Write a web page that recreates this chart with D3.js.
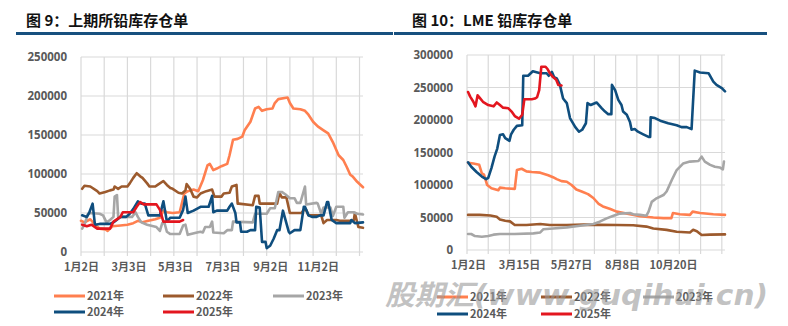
<!DOCTYPE html>
<html><head><meta charset="utf-8">
<script src="https://cdn.jsdelivr.net/npm/d3@7"></script>
<style>body{margin:0;background:#fff}svg{display:block}</style>
</head><body>
<svg id="c" width="788" height="326"></svg>
<script>
// ---------- data (x = trading-day index within the year, value in thousand tonnes) ----------
const UNIT = 1000;
const seriesNames = ["2021年","2022年","2023年","2024年","2025年"];
const seriesColors = ["#FF7F4F","#9C5A2D","#A6A6A6","#0F4E7E","#E3161F"];

const leftTitle = "图 9：上期所铅库存仓单";
const rightTitle = "图 10：LME 铅库存仓单";

const leftYTicks = [0,50000,100000,150000,200000,250000];
const rightYTicks = [0,50000,100000,150000,200000,250000,300000];
const gridIdx = [0,20,40,60,80,100,120,140,160,180,200,220,240];
const leftXLabels = ["1月2日","3月3日","5月3日","7月3日","9月2日","11月2日"];
const leftXLabelIdx = [0,41,81,122,163,204];
const rightXLabels = ["1月2日","3月15日","5月27日","8月8日","10月20日"];
const rightXLabelIdx = [1,49,98,146,194];

// SHFE (left)
const shfe2021 = [[0,40],[3,38],[8,42],[12,35],[16,30],[21,29],[23,27],[27,33],[34,34],[40,35],[45,37],[49,40],[53,38],[58,40],[64,42],[68,44],[71,53],[74,51],[79,50],[85,51],[89,75],[92,78],[97,80],[101,78],[105,92],[109,111],[111,113],[114,105],[117,107],[121,110],[126,113],[128,124],[131,144],[135,145],[139,148],[141,156],[146,167],[150,184],[153,186],[156,181],[160,183],[165,184],[167,191],[170,196],[178,198],[180,191],[183,184],[189,183],[193,181],[196,176],[200,167],[204,161],[209,156],[213,152],[217,141],[222,124],[226,118],[229,109],[232,99],[234,97],[238,90],[243,83]];
const shfe2022 = [[1,81],[3,85],[8,84],[14,78],[16,75],[21,77],[25,79],[28,80],[29,84],[32,81],[35,84],[40,84],[42,88],[45,95],[48,101],[51,97],[53,95],[57,88],[59,84],[64,84],[66,86],[71,91],[74,86],[77,82],[79,81],[84,76],[87,75],[90,79],[91,87],[94,81],[97,71],[100,70],[103,75],[108,78],[113,80],[115,71],[121,71],[123,75],[128,76],[130,84],[134,86],[135,62],[136,62],[148,60],[150,72],[153,72],[154,62],[169,62],[171,76],[173,70],[177,70],[180,50],[190,50],[192,54],[194,54],[196,47],[207,47],[209,37],[212,41],[220,41],[223,40],[235,40],[236,50],[239,32],[243,31]];
const shfe2023 = [[1,30],[3,35],[6,49],[8,50],[16,49],[19,47],[22,38],[25,41],[28,45],[29,71],[31,73],[32,45],[39,45],[44,45],[47,51],[49,45],[52,38],[57,35],[65,32],[68,27],[70,37],[72,37],[74,26],[77,23],[85,23],[88,34],[90,35],[92,22],[100,25],[103,26],[105,25],[107,32],[111,32],[113,39],[114,25],[123,24],[126,28],[130,28],[131,39],[148,38],[150,49],[160,49],[163,56],[167,56],[170,77],[173,77],[176,74],[180,69],[184,69],[186,63],[189,63],[193,84],[194,61],[203,63],[204,62],[207,49],[209,57],[215,57],[217,46],[220,58],[226,58],[227,44],[230,51],[235,51],[238,49],[243,48]];
const shfe2024 = [[1,47],[5,45],[7,50],[10,62],[12,35],[16,36],[25,36],[29,39],[34,45],[39,45],[42,49],[45,55],[49,65],[52,62],[55,62],[58,47],[68,47],[71,65],[74,39],[77,44],[85,44],[88,54],[90,71],[92,50],[97,53],[103,58],[110,58],[113,72],[114,51],[117,53],[126,53],[128,58],[130,62],[133,50],[134,38],[137,38],[138,26],[143,26],[146,28],[150,28],[151,58],[154,57],[156,13],[159,13],[160,5],[163,8],[166,17],[169,28],[171,28],[174,53],[179,26],[180,24],[184,28],[189,28],[192,58],[193,58],[196,47],[199,45],[203,45],[206,47],[209,47],[212,64],[213,64],[216,41],[220,37],[232,37],[233,41],[236,37],[243,38]];
const shfe2025 = [[1,35],[5,33],[9,35],[14,30],[25,30],[28,39],[34,45],[36,51],[45,51],[48,58],[51,64],[54,61],[65,61],[68,54],[71,39],[85,39],[88,41]];

// LME (right)
const lme2021 = [[1,134],[6,133],[11.5,131],[14,118],[16,116],[19,100],[23,95],[29.5,92],[31,96],[36,95],[45,94],[47,123],[51.5,125],[56,121],[61,120],[69,119],[76.5,115],[81,112],[84.5,109],[89,106],[94,105],[98.5,100],[103,93],[108,90],[114,86],[119,80],[124,71],[128,67],[135,63],[141,59],[153.5,55],[163,52],[175.5,50],[185,49],[192.5,49],[194,57],[200.5,55],[210,54],[212.5,59],[219.5,57],[232,55],[243,54]];
const lme2022 = [[1,54],[12,54],[22,53],[28,51],[31,47],[36,45],[40.5,44],[45,38.5],[56,38.5],[69,40],[78,38.5],[94,38.5],[110,39],[125,38.7],[141,38.5],[156.5,38],[169,36],[175.5,33],[188,31],[197.5,28],[210,27],[213,31],[216.5,29],[221,23],[229,23.6],[243,24]];
const lme2023 = [[1,24.6],[4,24.6],[7.5,21.5],[14,20.5],[20,21.5],[25,23.6],[31,24.6],[45,24.6],[62.5,25.6],[69,27],[72,32],[81,33],[94,34.8],[110,38],[119,40],[125,43.6],[131.5,48.7],[138,52.8],[144,56],[153.5,57],[156.5,55],[163,54],[169,52.8],[171,59],[174,74],[178.5,79.5],[185,84.6],[188,90],[193,108],[197.5,123],[203.5,133],[210,136],[218,137],[221,143.6],[224,136],[229,131],[233.5,128],[238,127],[241,124],[242,136]];
const lme2024 = [[1,135],[4,128],[9,120],[14,113],[18,109],[20,111],[23,126],[26,144],[28.5,156],[31,177],[34,178],[36,172],[40,168],[41.5,178],[44,185],[47,191],[52,192],[53,268],[57.5,268],[62,275],[69,272],[75,272],[77,268],[80,274],[82,266],[84.5,264],[87.5,254],[90.5,233],[94,226],[97,203],[102,189],[105.5,182],[108.5,185],[112,195],[113.5,226],[116.5,223],[122,227],[127,218],[130,213],[133,209],[136,209],[136.5,254],[139.5,246],[142.5,231],[145.5,223],[147,213],[150.5,208],[153.5,197],[155,185],[158,186],[161,182],[166,178],[171,174],[172.5,174],[173,204],[177,203],[182,199],[189.5,195],[197.5,192],[202,189],[207,189],[211.5,186],[214.5,276],[219.5,273],[227.5,272],[232,259],[235,254],[240,249],[243,244]];
const lme2025 = [[1,243],[3,236],[6,228],[8,221],[10,238],[12,234],[15,228],[20,223],[25,221],[28,227],[31,223],[34,219],[39,218],[42,213],[45,206],[49,202],[52,208],[54,232],[56,232],[61,232],[64,233],[66,235],[68,246],[70,282],[74,282],[76,278],[78,272],[81,266],[84,262],[86,254],[89,253]];

const watermark = "股期汇(www.guqihui.cn)";

// ---------- drawing ----------
const svg = d3.select("#c");
const LABEL_FONT = "'Open Sans','Noto Sans CJK SC',sans-serif";
const CJK_FONT = "'Noto Sans CJK SC','Noto Sans',sans-serif";
const TXT = "#595959";

function panel(cfg){
  const g = svg.append("g");
  // title + rule
  g.append("text").attr("x", cfg.titleX).attr("y", 25.5).text(cfg.title)
    .attr("font-family", CJK_FONT).attr("font-size", 15).attr("font-weight", "bold").attr("fill", "#111");
  g.append("rect").attr("x", cfg.ruleX0).attr("y", 32).attr("width", cfg.ruleX1 - cfg.ruleX0).attr("height", 3).attr("fill", "#17507F");

  const x = d3.scaleLinear().domain([0,243]).range([cfg.x0, cfg.x1]);
  const y = d3.scaleLinear().domain([0, cfg.ymax]).range([cfg.yb, cfg.yt]);

  // gridlines
  g.append("g").selectAll("line").data(cfg.yTicks).join("line")
    .attr("x1", cfg.x0).attr("x2", cfg.x1).attr("y1", d=>y(d)).attr("y2", d=>y(d))
    .attr("stroke", "#D9D9D9").attr("stroke-width", 1.2);
  g.append("g").selectAll("line").data(gridIdx).join("line")
    .attr("x1", d=>x(d)).attr("x2", d=>x(d)).attr("y1", cfg.yt).attr("y2", cfg.yb + 4)
    .attr("stroke", "#D9D9D9").attr("stroke-width", 1.2);

  // y axis labels
  const ya = g.append("g").attr("transform", `translate(${cfg.x0},0)`)
    .call(d3.axisLeft(y).tickValues(cfg.yTicks).tickSize(0).tickPadding(14).tickFormat(d3.format("d")));
  ya.select(".domain").remove();
  ya.selectAll("text").attr("font-family", LABEL_FONT).attr("font-size", 11.5).attr("font-weight", "bold").attr("fill", TXT);

  // x axis labels
  const xa = g.append("g").attr("transform", `translate(0,${cfg.yb})`)
    .call(d3.axisBottom(x).tickValues(cfg.xLabelIdx).tickSize(0).tickPadding(11).tickFormat((d,i)=>cfg.xLabels[i]));
  xa.select(".domain").remove();
  xa.selectAll("text").attr("font-family", CJK_FONT).attr("font-size", 11).attr("font-weight", "bold").attr("fill", TXT);

  // series
  const line = d3.line().x(d=>x(d[0])).y(d=>y(d[1]*UNIT));
  cfg.series.forEach((s,i)=>{
    g.append("path").attr("d", line(s)).attr("fill","none")
      .attr("stroke", seriesColors[i]).attr("stroke-width", 2.6)
      .attr("stroke-linejoin","round").attr("stroke-linecap","round");
  });

  // legend
  seriesNames.forEach((name,i)=>{
    const lx = cfg.legCols[i%3], ly = cfg.legRows[Math.floor(i/3)];
    g.append("line").attr("x1", lx).attr("x2", lx+31).attr("y1", ly).attr("y2", ly)
      .attr("stroke", seriesColors[i]).attr("stroke-width", 3);
    g.append("text").attr("x", lx+33).attr("y", ly).attr("dy","0.35em").text(name)
      .attr("font-family", CJK_FONT).attr("font-size", 11).attr("font-weight","bold").attr("fill", TXT);
  });
}

panel({title:leftTitle, titleX:26, ruleX0:16, ruleX1:393,
  x0:81, x1:363, yb:252, yt:57, ymax:250000, yTicks:leftYTicks,
  xLabels:leftXLabels, xLabelIdx:leftXLabelIdx,
  series:[shfe2021,shfe2022,shfe2023,shfe2024,shfe2025],
  legCols:[54,163,273], legRows:[296,312]});

panel({title:rightTitle, titleX:412, ruleX0:394, ruleX1:767,
  x0:467, x1:725, yb:250, yt:55, ymax:300000, yTicks:rightYTicks,
  xLabels:rightXLabels, xLabelIdx:rightXLabelIdx,
  series:[lme2021,lme2022,lme2023,lme2024,lme2025],
  legCols:[437,541,643], legRows:[297,314]});

// watermark
svg.append("text").attr("x", 385).attr("y", 305).text(watermark)
  .attr("font-family", "'DejaVu Sans','Noto Sans CJK SC',sans-serif").attr("font-size", 28)
  .attr("font-weight","bold").attr("font-style","italic")
  .attr("textLength", 383).attr("lengthAdjust","spacingAndGlyphs")
  .attr("fill", "#999").attr("fill-opacity", 0.6);
</script>
</body></html>
